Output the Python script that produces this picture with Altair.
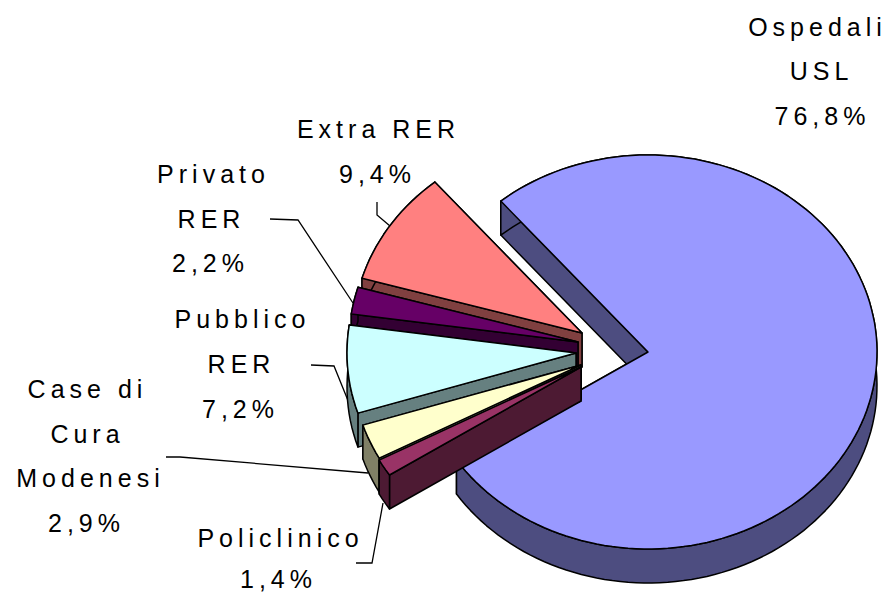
import math
import altair as alt

# Data
slice_names = ["Ospedali USL", "Policlinico", "Case di Cura Modenesi", "Pubblico RER", "Privato RER", "Extra RER"]
slice_values = [76.8, 1.4, 2.9, 7.2, 2.2, 9.4]
label_lines = [
    ["Ospedali", "USL", "76,8%"],
    ["Policlinico", "1,4%"],
    ["Case di", "Cura", "Modenesi", "2,9%"],
    ["Pubblico", "RER", "7,2%"],
    ["Privato", "RER", "2,2%"],
    ["Extra RER", "9,4%"],
]

# Styles and layout
top_colors = ["#9999FF", "#993366", "#FFFFCC", "#CCFFFF", "#660066", "#FF8080"]
wall_colors = ["#4D4D80", "#4D1A33", "#808066", "#668080", "#330033", "#804040"]
apexes = [(648, 352), (581, 367), (581, 365), (576, 353), (578, 342), (582, 333)]
draw_order = [0, 5, 4, 3, 2, 1]
label_pos = [
    [(815, 28), (819, 72), (820, 117)],
    [(278, 539), (276, 580)],
    [(85, 390), (85, 435), (88, 479), (84, 524)],
    [(240, 320), (239, 365), (238, 410)],
    [(211, 175), (209, 220), (208, 264)],
    [(376, 130), (375, 175)],
]
leaders = [
    [(377, 202), (377, 215), (390, 226)],
    [(270, 219), (298, 220), (353, 303)],
    [(311, 365), (334, 366), (349, 403)],
    [(166, 457), (180, 457), (368, 473)],
    [(356, 563), (372, 563), (383, 503)],
]
RX, RY, DEPTH, START = 229, 197, 34, 230.0


def rim(apex, a0, a1):
    n = max(2, int(abs(a1 - a0) / 2) + 1)
    pts = []
    for i in range(n + 1):
        a = math.radians(a0 + (a1 - a0) * i / n)
        pts.append((apex[0] + RX * math.cos(a), apex[1] + RY * math.sin(a)))
    return pts


def drop(pts):
    return [(x, y + DEPTH) for x, y in pts]


def poly(pts, fill):
    ring = [[round(x, 1), round(y, 1)] for x, y in pts]
    ring.append(ring[0])
    return {"type": "Feature", "properties": {"fill": fill},
            "geometry": {"type": "Polygon", "coordinates": [ring]}}


total = sum(slice_values)
slices = []
angle = START
for value, apex, top, wall in zip(slice_values, apexes, top_colors, wall_colors):
    end = angle + value / total * 360
    edge = rim(apex, angle, end)
    slices.append([
        poly([apex, edge[-1], *drop([edge[-1], apex])], wall),
        poly([apex, edge[0], *drop([edge[0], apex])], wall),
        poly(edge + drop(edge)[::-1], wall),
        poly([apex] + edge, top),
    ])
    angle = end
features = [f for i in draw_order for f in slices[i]]

leader_features = [
    {"type": "Feature", "properties": {},
     "geometry": {"type": "LineString", "coordinates": [list(p) for p in line]}}
    for line in leaders
]

THIN = "\u2009"
rows = []
for lines, positions in zip(label_lines, label_pos):
    for line, (x, y) in zip(lines, positions):
        rows.append({"t": THIN.join(line), "x": x, "y": y})

shapes = alt.Chart(alt.Data(values=features)).mark_geoshape(
    stroke="black", strokeWidth=1.5, strokeJoin="round"
).encode(fill=alt.Fill("properties.fill:N", scale=None))

lines_layer = alt.Chart(alt.Data(values=leader_features)).mark_geoshape(
    filled=False, stroke="black", strokeWidth=1.3
)

text = alt.Chart(alt.Data(values=rows)).mark_text(
    font="Liberation Sans", fontSize=25, color="black", align="center", baseline="middle"
).encode(longitude="x:Q", latitude="y:Q", text="t:N")

chart = alt.layer(lines_layer, shapes, text).project(
    type="identity", scale=1, translate=[-8, -8]
).properties(width=874, height=586, padding=0, autosize="none").configure_view(stroke=None)

chart.save("out.html", embed_options={"renderer": "svg", "actions": False})
